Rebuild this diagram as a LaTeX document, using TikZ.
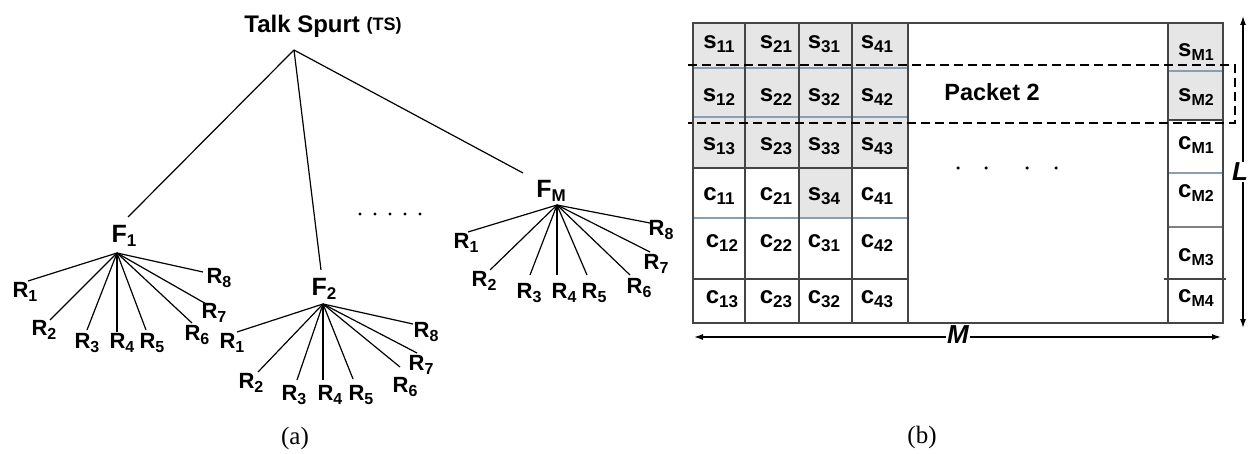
\documentclass[tikz,border=0pt]{standalone}
\usepackage{fontspec}
\setmainfont{Liberation Sans}
\newfontfamily\capfont{Liberation Serif}
\usetikzlibrary{arrows.meta}
\newcommand\lowsub[2][16]{\raisebox{-0.18em}{\fontsize{#1}{#1}\selectfont #2}}
\definecolor{gridc}{HTML}{454545}
\definecolor{bluel}{HTML}{8A9DB2}
\definecolor{cellg}{HTML}{E6E6E6}
\tikzset{
  tree/.style={line width=1.2pt, black},
  rlab/.style={font=\bfseries\fontsize{22}{22}\selectfont, inner sep=0pt},
  flab/.style={font=\bfseries\fontsize{25}{25}\selectfont, inner sep=0pt},
  ttl/.style={font=\bfseries\fontsize{24}{24}\selectfont, inner sep=0pt},
  cell/.style={font=\bfseries\fontsize{24}{24}\selectfont, inner sep=0pt},
  gline/.style={line width=1.5pt, gridc},
  bline/.style={line width=1.5pt, bluel},
  dashbox/.style={line width=1.3pt, black, dash pattern=on 9pt off 5pt},
  dimarrow/.style={line width=1.3pt, black, {Latex[length=9pt,width=6pt]}-{Latex[length=9pt,width=6pt]}},
  dimlab/.style={font=\bfseries\itshape\fontsize{26}{26}\selectfont, fill=white, inner sep=1pt},
  caplab/.style={font=\capfont\fontsize{25}{25}\selectfont, inner sep=0pt},
  dotn/.style={circle, fill=black, inner sep=0pt, minimum size=3.5pt}
}
\begin{document}
\begin{tikzpicture}[x=1pt,y=-1pt]
\useasboundingbox (0,0) rectangle (1249,454);
% ---------------- (a) tree
\node[ttl] (tstxt) at (323,26) {Talk Spurt {\fontsize{18}{18}\selectfont\raisebox{2pt}{(TS)}}};
\coordinate (ts) at (294,50);
\coordinate (f1top) at (128,217);
\coordinate (f2top) at (321,270);
\coordinate (fmtop) at (523,173);
\draw[tree] (ts) -- (f1top);
\draw[tree] (ts) -- (f2top);
\draw[tree] (ts) -- (fmtop);
\node[flab] (F1) at (124,236) {F\lowsub[17]{1}};
\node[flab] (F2) at (324,289) {F\lowsub[17]{2}};
\node[flab] (FM) at (551,191) {F\lowsub[17]{M}};
\coordinate (h1) at (117,253);
\coordinate (h2) at (323,304);
\coordinate (hm) at (557,205);
\foreach \i/\ex/\ey/\lx/\ly in {1/28/281/25/292, 2/50/320/44/330, 3/87/330/87/343, 4/117/332/122/343,
  5/146/330/152/343, 6/192/323/197/335, 7/208/305/214/313, 8/203/272/219/278}{
  \coordinate (ga\i) at (\ex,\ey);
  \node[rlab] (ra\i) at (\lx,\ly) {R\lowsub{\i}};
  \draw[tree] (h1) -- (ga\i);
}
\foreach \i/\ex/\ey/\lx/\ly in {1/237/332/232/343, 2/258/372/251/383, 3/297/380/294/395, 4/323/380/330/395,
  5/353/379/361/395, 6/400/367/405/387, 7/417/353/421/365, 8/413/324/426/332}{
  \coordinate (gb\i) at (\ex,\ey);
  \node[rlab] (rb\i) at (\lx,\ly) {R\lowsub{\i}};
  \draw[tree] (h2) -- (gb\i);
}
\foreach \i/\ex/\ey/\lx/\ly in {1/468/232/466/243, 2/490/270/484/281, 3/530/275/529/293, 4/557/275/564/293,
  5/587/275/594/293, 6/630/275/639/288, 7/650/252/656/264, 8/650/223/661/230}{
  \coordinate (gm\i) at (\ex,\ey);
  \node[rlab] (rm\i) at (\lx,\ly) {R\lowsub{\i}};
  \draw[tree] (hm) -- (gm\i);
}
\foreach \x [count=\k] in {360,375,390,405,420}{
  \node[dotn, minimum size=3.2pt] (da\k) at (\x,214) {};
}
\node[caplab] (capa) at (295,438) {(a)};
% ---------------- (b) table
\fill[cellg] (693,23) rectangle (908,168);
\fill[cellg] (799,168) rectangle (852,218);
\fill[cellg] (1168,23) rectangle (1223,120);
% left grid horizontal lines
\draw[bline] (693,68) -- (908,68);
\draw[bline] (693,117) -- (908,117);
\draw[gline] (693,168) -- (908,168);
\draw[bline] (693,218) -- (908,218);
\draw[gline] (693,279) -- (908,279);
% left grid vertical lines
\foreach \x in {745,799,852,908}{ \draw[gline] (\x,23) -- (\x,323); }
% right column
\draw[bline] (1168,71) -- (1223,71);
\draw[gline] (1168,120) -- (1223,120);
\draw[bline] (1168,173) -- (1223,173);
\draw[line width=1.3pt, gray] (1168,227) -- (1223,227);
\draw[gline] (1164,279) -- (1226,279);
\draw[gline] (1168,23) -- (1168,323);
% outer frame
\draw[gline] (693,23) rectangle (1223,323);
% dashed packet box
\draw[dashbox] (688,65) -- (1235,65) -- (1235,123) -- (688,123);
\node[font=\bfseries\fontsize{23.5}{23.5}\selectfont, inner sep=0pt] (pk) at (992,92) {Packet 2};
\foreach \x [count=\k] in {958,986,1027,1056}{
  \node[dotn] (db\k) at (\x,168) {};
}
% cell labels
\foreach \n/\x/\y in {
  s\lowsub[17]{11}/719/44, s\lowsub[17]{21}/776/44, s\lowsub[17]{31}/824/44, s\lowsub[17]{41}/877/44,
  s\lowsub[17]{12}/719/97, s\lowsub[17]{22}/776/97, s\lowsub[17]{32}/824/97, s\lowsub[17]{42}/877/97,
  s\lowsub[17]{13}/719/146, s\lowsub[17]{23}/776/146, s\lowsub[17]{33}/824/146, s\lowsub[17]{43}/877/146,
  c\lowsub[17]{11}/719/196, c\lowsub[17]{21}/776/196, s\lowsub[17]{34}/824/196, c\lowsub[17]{41}/877/196,
  c\lowsub[17]{12}/722/243, c\lowsub[17]{22}/776/243, c\lowsub[17]{31}/824/243, c\lowsub[17]{42}/877/243,
  c\lowsub[17]{13}/722/299, c\lowsub[17]{23}/776/299, c\lowsub[17]{32}/824/299, c\lowsub[17]{43}/877/299,
  s\lowsub[16]{M1}/1196/52, s\lowsub[16]{M2}/1196/97, c\lowsub[16]{M1}/1196/145,
  c\lowsub[16]{M2}/1196/193, c\lowsub[16]{M3}/1196/257, c\lowsub[16]{M4}/1196/298}{
  \node[cell] at (\x,\y) {\n};
}
% dimension arrows
\coordinate (ml) at (694,337);
\coordinate (mr) at (1221,337);
\draw[dimarrow] (ml) -- (mr);
\node[dimlab] (Mlab) at (958,335) {M};
\coordinate (lt) at (1243,16);
\coordinate (lb) at (1243,328);
\draw[dimarrow] (lt) -- (lb);
\node[dimlab] (Llab) at (1240,172) {L};
\node[caplab] (capb) at (922,437) {(b)};
\end{tikzpicture}
\end{document}
